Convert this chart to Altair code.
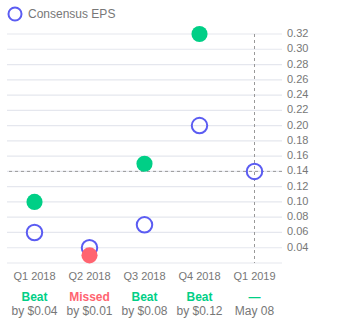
import altair as alt
import pandas as pd

quarters = ["Q1 2018", "Q2 2018", "Q3 2018", "Q4 2018", "Q1 2019"]
consensus = [0.06, 0.04, 0.07, 0.20, 0.14]
actual_q = ["Q1 2018", "Q2 2018", "Q3 2018", "Q4 2018"]
actual = [0.10, 0.03, 0.15, 0.32]
status = ["Beat", "Missed", "Beat", "Beat", "—"]
detail = ["by $0.04", "by $0.01", "by $0.08", "by $0.12", "May 08"]
grid_vals = [0.02, 0.04, 0.06, 0.08, 0.10, 0.12, 0.14, 0.16, 0.18, 0.20, 0.22, 0.24, 0.26, 0.28, 0.30, 0.32]
label_vals = grid_vals[1:]

GREEN = "#00CF86"
RED = "#FF6470"
BLUE = "#5B5CF2"
GRAY = "#777777"
W, H = 275, 229
FONT = "Liberation Sans"

cons_df = pd.DataFrame({"q": quarters, "v": consensus})
act_df = pd.DataFrame({"q": actual_q, "v": actual, "s": status[:4]})
lab_df = pd.DataFrame({"q": quarters, "status": status, "detail": detail})
grid_df = pd.DataFrame({"v": grid_vals})
ylab_df = pd.DataFrame({"v": label_vals, "t": [f"{v:.2f}" for v in label_vals]})

xs = alt.X("q:O", sort=quarters, scale=alt.Scale(type="point", domain=quarters, padding=0.5), axis=None)
ys = alt.Y("v:Q", scale=alt.Scale(domain=[0.02, 0.32], nice=False, zero=False), axis=None)

grid = alt.Chart(grid_df).mark_rule(color="#e5e7ee", strokeWidth=1.2).encode(y=ys)
base_rule = alt.Chart(pd.DataFrame({"q": ["Q1 2019"]})).mark_rule(
    color="#999999", strokeDash=[3, 3], strokeWidth=1).encode(x=xs)
hrule = alt.Chart(pd.DataFrame({"v": [0.14]})).mark_rule(
    color="#999999", strokeDash=[3, 3], strokeWidth=1).encode(y=ys)

cons = alt.Chart(cons_df).mark_point(shape="circle", filled=False, size=240, strokeWidth=2,
                                     color=BLUE, opacity=1).encode(x=xs, y=ys)
act = alt.Chart(act_df).mark_circle(size=260, opacity=1).encode(
    x=xs, y=ys,
    color=alt.Color("s:N", scale=alt.Scale(domain=["Beat", "Missed"], range=[GREEN, RED]), legend=None))

ylab = alt.Chart(ylab_df).mark_text(fontSize=11, color=GRAY, font=FONT, align="left",
                                    baseline="middle").encode(
    x=alt.value(W + 5), y=ys, text="t:N")
qlab = alt.Chart(lab_df).mark_text(fontSize=11, color=GRAY, font=FONT).encode(
    x=xs, y=alt.value(H + 14), text="q:N")
st = alt.Chart(lab_df).mark_text(fontSize=12, fontWeight="bold", font=FONT).encode(
    x=xs, y=alt.value(H + 34), text="status:N",
    color=alt.Color("status:N", scale=alt.Scale(domain=["Beat", "Missed", "—"], range=[GREEN, RED, GRAY]),
                    legend=None))
dt = alt.Chart(lab_df).mark_text(fontSize=12, color=GRAY, font=FONT).encode(
    x=xs, y=alt.value(H + 48), text="detail:N")

leg_pt = alt.Chart(pd.DataFrame({"a": [1]})).mark_point(
    shape="circle", filled=False, size=170, strokeWidth=2, color=BLUE, opacity=1).encode(
    x=alt.value(8), y=alt.value(-20))
leg_tx = alt.Chart(pd.DataFrame({"t": ["Consensus EPS"]})).mark_text(
    fontSize=12, color=GRAY, align="left", font=FONT).encode(
    x=alt.value(21), y=alt.value(-20), text="t:N")

chart = alt.layer(grid, base_rule, hrule, cons, act, ylab, qlab, st, dt, leg_pt, leg_tx).properties(
    width=W, height=H,
    background="white",
    autosize=alt.AutoSizeParams(type="none"),
    padding={"left": 7, "top": 34, "right": 55, "bottom": 66},
).configure_view(stroke="transparent", strokeWidth=0)

chart.save("out.html", embed_options={"renderer": "svg", "actions": False})
